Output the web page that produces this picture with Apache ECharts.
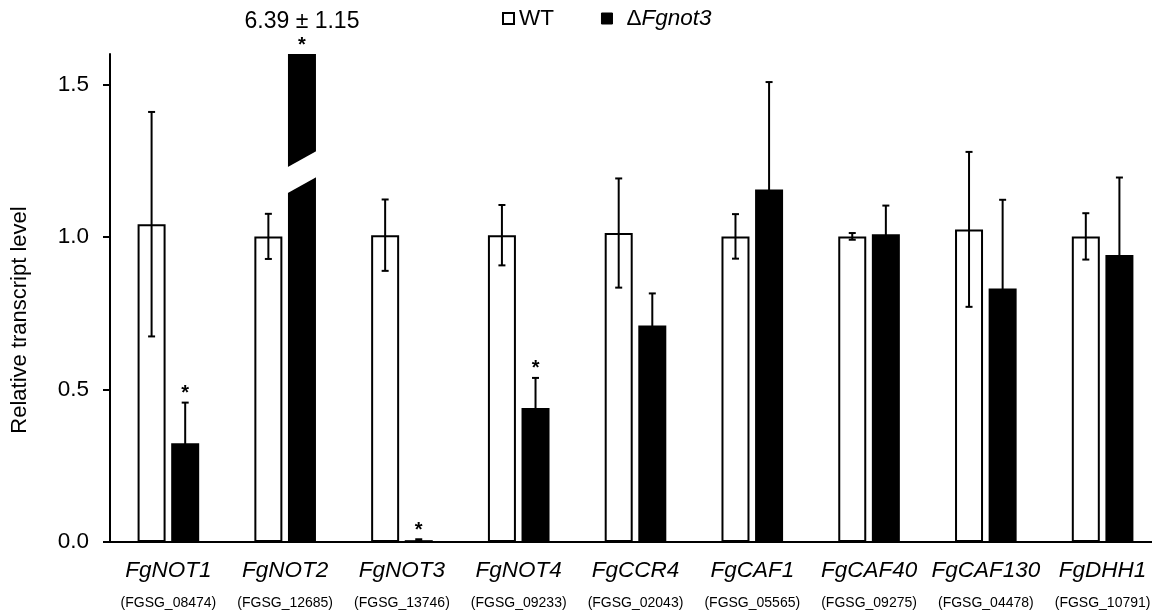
<!DOCTYPE html>
<html><head><meta charset="utf-8">
<script src="https://cdn.jsdelivr.net/npm/echarts@6/dist/echarts.min.js"></script>
<style>html,body{margin:0;padding:0;background:#fff}#c{width:1152px;height:613px}</style>
</head><body><div id="c"></div>
<script>
const genes = ['FgNOT1','FgNOT2','FgNOT3','FgNOT4','FgCCR4','FgCAF1','FgCAF40','FgCAF130','FgDHH1'];
const geneIds = ['FGSG_08474','FGSG_12685','FGSG_13746','FGSG_09233','FGSG_02043','FGSG_05565','FGSG_09275','FGSG_04478','FGSG_10791'];
const wtMean = [1.042, 1.002, 1.006, 1.006, 1.013, 1.002, 1.002, 1.025, 1.002];
const wtErr  = [0.368, 0.074, 0.117, 0.099, 0.179, 0.073, 0.011, 0.254, 0.076];
const mutMean = [0.324, 6.39, 0.006, 0.439, 0.710, 1.156, 1.009, 0.831, 0.941];
const mutErr  = [0.133, 1.15, 0.003, 0.099, 0.105, 0.352, 0.094, 0.291, 0.254];
const mutSig  = [1, 1, 1, 1, 0, 0, 0, 0, 0];
const yTicks = [0, 0.5, 1.0, 1.5];
const seriesNames = ['WT', 'ΔFgnot3'];
const Y_MAX = 1.6;
const BREAK_AT = 1.213;

const FONT = '"Liberation Sans", Arial, sans-serif';
const BIG = 22.5;
const BAR_W = 28, BAR_GAP = 0.2;
const HALF_OFF = (BAR_W * (1 + BAR_GAP)) / 2;

function errSeries(means, errs, sig, offset) {
  return {
    type: 'custom', silent: true, z: 5, clip: false,
    data: means.map((m, i) => [i, m, errs[i], sig ? sig[i] : 0]),
    encode: { x: 0, y: 1 },
    renderItem(params, api) {
      const i = api.value(0), m = api.value(1), e = api.value(2), s = api.value(3);
      const ls = { stroke: '#000', lineWidth: 2 };
      const children = [];
      const center = api.coord([i, 0]);
      const x = center[0] + offset;
      let topY;
      if (m > Y_MAX) {
        topY = api.coord([i, Y_MAX])[1];
        const yc = api.coord([i, BREAK_AT])[1];
        const hw = BAR_W / 2 + 1.5, sl = 8.6, th = 13;
        children.push({ type: 'polygon', shape: { points: [
          [x - hw, yc + sl - th], [x + hw, yc - sl - th], [x + hw, yc - sl + th], [x - hw, yc + sl + th]
        ] }, style: { fill: '#fff', stroke: null } });
        children.push({ type: 'text', x: x, y: topY - 32, style: {
          text: m.toFixed(2) + ' ± ' + e.toFixed(2), font: '23px ' + FONT, fill: '#000',
          textAlign: 'center', textVerticalAlign: 'middle' } });
      } else {
        const pt = api.coord([i, m + e]), pb = api.coord([i, Math.max(m - e, 0)]);
        topY = pt[1];
        children.push({ type: 'line', shape: { x1: x, y1: pt[1], x2: x, y2: pb[1] }, style: ls });
        children.push({ type: 'line', shape: { x1: x - 3.5, y1: pt[1], x2: x + 3.5, y2: pt[1] }, style: ls });
        children.push({ type: 'line', shape: { x1: x - 3.5, y1: pb[1], x2: x + 3.5, y2: pb[1] }, style: ls });
      }
      if (s) {
        children.push({ type: 'text', x: x, y: topY - 9, style: {
          text: '*', font: 'bold 20px ' + FONT, fill: '#000',
          textAlign: 'center', textVerticalAlign: 'middle' } });
      }
      return { type: 'group', children };
    }
  };
}

const chart = echarts.init(document.getElementById('c'), null, { renderer: 'canvas' });
chart.setOption({
  animation: false,
  backgroundColor: '#fff',
  grid: { left: 110, top: 54, right: -9, bottom: 71, containLabel: false, outerBoundsMode: 'none' },
  legend: {
    left: 497, top: 2, itemWidth: 11, itemHeight: 11, itemGap: 47, selectedMode: false,
    data: [
      { name: seriesNames[0], icon: 'rect', itemStyle: { color: '#fff', borderColor: '#000', borderWidth: 2 } },
      { name: seriesNames[1], icon: 'rect', itemStyle: { color: '#000', borderColor: '#000', borderWidth: 1 } }
    ],
    formatter: n => n === seriesNames[0] ? '{n|' + n + '}' : '{d|Δ}{i|' + n.slice(1) + '}',
    textStyle: { rich: {
      n: { fontFamily: FONT, fontSize: BIG, color: '#000' },
      d: { fontFamily: FONT, fontSize: BIG, color: '#000', padding: [0, 0, 0, 9] },
      i: { fontFamily: FONT, fontSize: BIG, color: '#000', fontStyle: 'italic' }
    } }
  },
  xAxis: {
    type: 'category', data: genes,
    axisLine: { show: true, lineStyle: { color: '#000', width: 2 } },
    axisTick: { show: false },
    axisLabel: {
      interval: 0, margin: 14,
      formatter: (v, idx) => '{a|' + v + '}\n{b|(' + geneIds[idx] + ')}',
      rich: {
        a: { fontFamily: FONT, fontSize: BIG, fontStyle: 'italic', color: '#000', lineHeight: 30 },
        b: { fontFamily: FONT, fontSize: 14, color: '#000', lineHeight: 34 }
      }
    }
  },
  yAxis: {
    type: 'value', min: 0, max: Y_MAX, interval: 0.5,
    axisLine: { show: true, lineStyle: { color: '#000', width: 2 } },
    axisTick: { show: true, length: 7, lineStyle: { color: '#000', width: 2 }, customValues: yTicks },
    axisLabel: { customValues: yTicks, formatter: v => v.toFixed(1), fontFamily: FONT, fontSize: BIG, color: '#000', margin: 21 },
    splitLine: { show: false }
  },
  graphic: [{
    type: 'text', x: 20, y: 320, rotation: Math.PI / 2,
    style: { text: 'Relative transcript level', font: '22px ' + FONT, fill: '#000', textAlign: 'center', textVerticalAlign: 'middle' }
  }],
  series: [
    { name: seriesNames[0], type: 'bar', data: wtMean, barWidth: BAR_W, barGap: (BAR_GAP * 100) + '%',
      itemStyle: { color: '#fff', borderColor: '#000', borderWidth: 2 } },
    { name: seriesNames[1], type: 'bar', data: mutMean, barWidth: BAR_W, barGap: (BAR_GAP * 100) + '%',
      itemStyle: { color: '#000' } },
    errSeries(wtMean, wtErr, null, -HALF_OFF),
    errSeries(mutMean, mutErr, mutSig, HALF_OFF)
  ]
});
</script></body></html>
